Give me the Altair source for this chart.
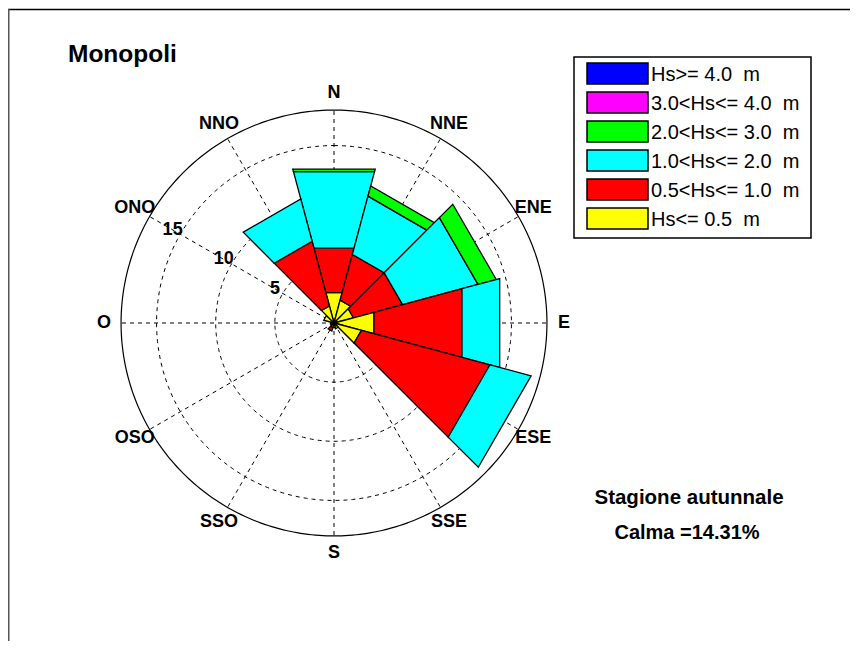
import altair as alt
import numpy as np
import pandas as pd

# ---------------- data ----------------
directions = ["N", "NNE", "ENE", "E", "ESE", "SSE", "S", "SSO", "OSO", "O", "ONO", "NNO"]
dir_angles = [0, 30, 60, 90, 120, 150, 180, 210, 240, 270, 300, 330]

hs_classes = ["Hs>= 4.0\u00a0 m", "3.0<Hs<= 4.0\u00a0 m", "2.0<Hs<= 3.0\u00a0 m",
              "1.0<Hs<= 2.0\u00a0 m", "0.5<Hs<= 1.0\u00a0 m", "Hs<= 0.5\u00a0 m"]
class_colors = ["#0000FF", "#FF00FF", "#00FF00", "#00FFFF", "#FF0000", "#FFFF00"]

# frequencies (%) per direction, per wave-height class
freq_le05  = [2.65, 2.0, 1.7, 3.5, 2.4, 0.5, 0.4, 0.4, 0.3, 0.3, 0.9, 1.5]
freq_05_10 = [3.9, 4.0, 4.3, 7.7, 11.25, 0.0, 0.0, 0.3, 0.0, 0.0, 0.0, 5.65]
freq_10_20 = [6.69, 5.1, 6.6, 3.3, 3.6, 0.0, 0.0, 0.0, 0.0, 0.0, 0.0, 3.7]
freq_20_30 = [0.22, 0.9, 1.6, 0.0, 0.0, 0.0, 0.0, 0.0, 0.0, 0.0, 0.0, 0.0]
freq_30_40 = [0.0] * 12
freq_ge40  = [0.0] * 12

ring_values = [5, 10, 15]
outer_value = 18
station = "Monopoli"
season = "Stagione autunnale"
calm_text = "Calma =14.31%"

# ---------------- geometry helpers ----------------
W, H = 842, 633
K = 11.83            # px per % unit
CX, CY = 326, 315    # centre of the rose in chart pixels
XDOM = [-CX / K, (W - CX) / K]
YDOM = [-(H - CY) / K, CY / K]
HALF = 15.0          # half-width of each sector (deg)


def X(field):
    return alt.X(field, type="quantitative", axis=None,
                 scale=alt.Scale(domain=XDOM, nice=False, zero=False))


def Y(field):
    return alt.Y(field, type="quantitative", axis=None,
                 scale=alt.Scale(domain=YDOM, nice=False, zero=False))


def pol(r, deg):
    a = np.radians(deg)
    return r * np.sin(a), r * np.cos(a)


# sector polygons (stacked from the smallest class outward)
stack_order = [
    (hs_classes[5], freq_le05),
    (hs_classes[4], freq_05_10),
    (hs_classes[3], freq_10_20),
    (hs_classes[2], freq_20_30),
    (hs_classes[1], freq_30_40),
    (hs_classes[0], freq_ge40),
]
rows = []
pid = 0
for i, (d, ang) in enumerate(zip(directions, dir_angles)):
    r0 = 0.0
    for cls, vals in stack_order:
        v = vals[i]
        if v <= 0:
            continue
        r1 = r0 + v
        verts = [(r0, ang - HALF), (r1, ang - HALF), (r1, ang + HALF),
                 (r0, ang + HALF), (r0, ang - HALF)]
        for j, (rr, aa) in enumerate(verts):
            x, y = pol(rr, aa)
            rows.append({"pid": pid, "v": j, "x": x, "y": y, "cls": cls, "dir": d})
        pid += 1
        r0 = r1
poly_df = pd.DataFrame(rows)

# grid circles
circ_rows = []
for rv in ring_values + [outer_value]:
    for j, t in enumerate(np.linspace(0, 360, 361)):
        x, y = pol(rv, t)
        circ_rows.append({"ring": rv, "v": j, "x": x, "y": y,
                          "kind": "outer" if rv == outer_value else "inner"})
circ_df = pd.DataFrame(circ_rows)

# radial lines
rad_rows = []
for ang in dir_angles:
    x2, y2 = pol(outer_value, ang)
    rad_rows.append({"x": 0.0, "y": 0.0, "x2": x2, "y2": y2})
rad_df = pd.DataFrame(rad_rows)

# compass labels
lab_r = 19.45
lab_rows = []
for d, ang in zip(directions, dir_angles):
    x, y = pol(lab_r, ang)
    lab_rows.append({"x": x, "y": y, "label": d})
lab_df = pd.DataFrame(lab_rows)

# ring value labels (along the ONO radial)
tick_rows = []
for rv in ring_values:
    x, y = pol(rv + 0.75, 300)
    tick_rows.append({"x": x, "y": y, "label": str(rv)})
tick_df = pd.DataFrame(tick_rows)

FONT = "Liberation Sans"

# ---------------- layers ----------------
inner_rings = alt.Chart(circ_df[circ_df.kind == "inner"]).mark_line(
    stroke="black", strokeWidth=1, strokeDash=[4, 4]
).encode(x=X("x"), y=Y("y"), order="v:Q", detail="ring:N")

outer_ring = alt.Chart(circ_df[circ_df.kind == "outer"]).mark_line(
    stroke="black", strokeWidth=1.2
).encode(x=X("x"), y=Y("y"), order="v:Q", detail="ring:N")

radials = alt.Chart(rad_df).mark_rule(
    stroke="black", strokeWidth=1, strokeDash=[4, 4]
).encode(x=X("x"), y=Y("y"), x2="x2", y2="y2")

sectors = alt.Chart(poly_df).mark_line(
    stroke="black", strokeWidth=1.3, strokeJoin="miter"
).encode(
    x=X("x"), y=Y("y"), order="v:Q", detail="pid:N",
    fill=alt.Fill("cls:N", scale=alt.Scale(domain=hs_classes, range=class_colors), legend=None),
)

compass = alt.Chart(lab_df).mark_text(
    font=FONT, fontSize=18, fontWeight="bold", color="black",
    align="center", baseline="middle"
).encode(x=X("x"), y=Y("y"), text="label:N")

ticks = alt.Chart(tick_df).mark_text(
    font=FONT, fontSize=18, fontWeight="bold", color="black",
    align="center", baseline="middle"
).encode(x=X("x"), y=Y("y"), text="label:N")

one = pd.DataFrame({"a": [0]})

title = alt.Chart(pd.DataFrame({"t": [station]})).mark_text(
    font=FONT, fontSize=24.5, fontWeight="bold", color="black",
    align="left", baseline="middle"
).encode(x=alt.value(60), y=alt.value(47), text="t:N")

season_txt = alt.Chart(pd.DataFrame({"t": [season]})).mark_text(
    font=FONT, fontSize=20.5, fontWeight="bold", color="black",
    align="center", baseline="middle"
).encode(x=alt.value(681), y=alt.value(490), text="t:N")

calm_txt = alt.Chart(pd.DataFrame({"t": [calm_text]})).mark_text(
    font=FONT, fontSize=20, fontWeight="bold", color="black",
    align="center", baseline="middle"
).encode(x=alt.value(679), y=alt.value(525), text="t:N")

# frame lines
frame_top = alt.Chart(one).mark_rule(stroke="black", strokeWidth=1.5).encode(
    x=alt.value(0), x2=alt.value(W), y=alt.value(1.5))
frame_left = alt.Chart(one).mark_rule(stroke="#555555", strokeWidth=1.5).encode(
    x=alt.value(0.75), y=alt.value(1), y2=alt.value(H))

# legend box
leg_layers = [
    alt.Chart(one).mark_rect(fill="white", stroke="black", strokeWidth=1.5).encode(
        x=alt.value(566), x2=alt.value(803), y=alt.value(49), y2=alt.value(230))
]
for i, (lab, col) in enumerate(zip(hs_classes, class_colors)):
    yc = 65.5 + 29.0 * i
    leg_layers.append(
        alt.Chart(pd.DataFrame({"t": [lab]})).mark_rect(fill=col, stroke="black", strokeWidth=1.5).encode(
            x=alt.value(579), x2=alt.value(640), y=alt.value(yc - 10.5), y2=alt.value(yc + 10.5))
    )
    leg_layers.append(
        alt.Chart(pd.DataFrame({"t": [lab]})).mark_text(
            font=FONT, fontSize=20, color="black", align="left", baseline="middle"
        ).encode(x=alt.value(643), y=alt.value(yc + 1), text="t:N")
    )

chart = alt.layer(
    inner_rings, radials, outer_ring, sectors, compass, ticks,
    title, season_txt, calm_txt, frame_top, frame_left, *leg_layers
).properties(
    width=W, height=H, padding=0,
    autosize=alt.AutoSizeParams(type="none"),
    background="white",
).configure_view(stroke=None)

chart.save("out.html", embed_options={"renderer": "svg", "actions": False})
